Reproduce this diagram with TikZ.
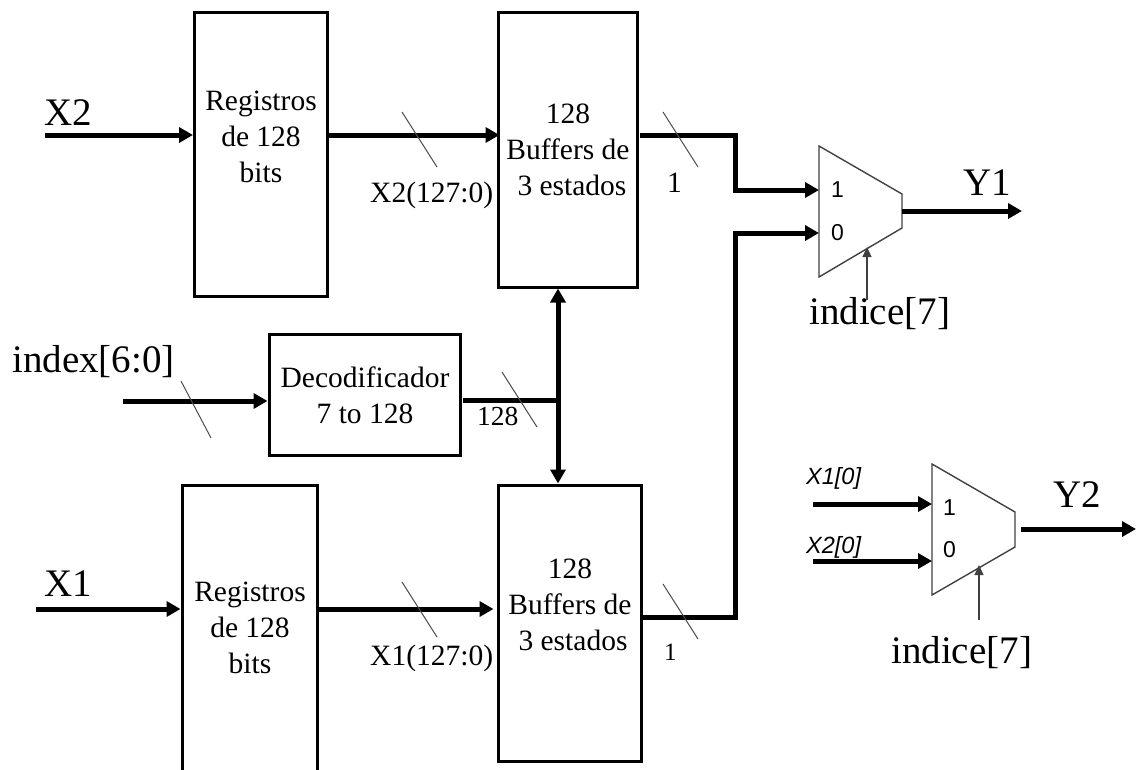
\documentclass[tikz,border=0pt]{standalone}
\usepackage{fontspec}
\setmainfont{Liberation Serif}
\newfontfamily\muxfont{Liberation Sans}
\usetikzlibrary{arrows.meta}
\tikzset{
  box/.style={draw=black,line width=3pt,inner sep=0pt},
  boxtext/.style={align=center,inner sep=0pt,font=\fontsize{29.5}{36}\selectfont},
  bus/.style={line width=5pt,-{Triangle[length=14pt,width=15pt]}},
  busplain/.style={line width=5pt},
  busboth/.style={line width=5pt,{Triangle[length=14pt,width=15pt]}-{Triangle[length=14pt,width=15pt]}},
  tick/.style={draw=black!70,line width=1pt},
  thin arrow/.style={draw=black!75,line width=1.2pt,-{Triangle[length=10pt,width=9pt]}},
  mux/.style={draw=black!75,line width=1.4pt},
  big/.style={inner sep=0pt,anchor=base west,font=\fontsize{39}{39}\selectfont},
  small/.style={inner sep=0pt,anchor=base west,font=\fontsize{29.5}{30}\selectfont},
  muxlabel/.style={inner sep=0pt,anchor=base west,font=\muxfont\fontsize{23}{23}\selectfont},
  itlabel/.style={inner sep=0pt,anchor=base west,font=\muxfont\itshape\fontsize{23.5}{24}\selectfont},
}
\begin{document}
\begin{tikzpicture}[x=1pt,y=-1pt]
\useasboundingbox (0,0) rectangle (1136,769);
% boxes
\node[box,minimum width=133pt,minimum height=284pt] (regtop) at (261,154) {};
\node[boxtext] (regtoptext) at (261,137) {Registros\\de 128\\bits};
\node[box,minimum width=139pt,minimum height=275pt] (buftop) at (567.5,149.5) {};
\node[boxtext] (buftoptext) at (568,150) {128\\Buffers de\\\hspace{8pt}3 estados};
\node[box,minimum width=191pt,minimum height=121pt] (dec) at (364.5,394.5) {};
\node[boxtext] (dectext) at (365,395) {Decodificador\\7 to 128};
\node[box,minimum width=135pt,minimum height=288pt] (regbot) at (249.5,629) {};
\node[boxtext] (regbottext) at (250,628) {Registros\\de 128\\bits};
\node[box,minimum width=143pt,minimum height=276pt] (bufbot) at (569.5,623) {};
\node[boxtext] (bufbottext) at (570,605) {128\\Buffers de\\\hspace{6pt}3 estados};
% muxes
\coordinate (m1a) at (819,146); \coordinate (m1b) at (902,194);
\coordinate (m1c) at (902,228); \coordinate (m1d) at (819,277);
\draw[mux] (m1a) -- (m1b) -- (m1c) -- (m1d) -- cycle;
\coordinate (m2a) at (932,464); \coordinate (m2b) at (1015,512);
\coordinate (m2c) at (1015,547); \coordinate (m2d) at (932,595);
\draw[mux] (m2a) -- (m2b) -- (m2c) -- (m2d) -- cycle;
\node[muxlabel] (m1one) at (831,197) {1};
\node[muxlabel] (m1zero) at (831,240) {0};
\node[muxlabel] (m2one) at (943,515) {1};
\node[muxlabel] (m2zero) at (943,557) {0};
% free ends
\coordinate (x2s) at (45,135); \coordinate (x1s) at (36,609);
\coordinate (idxs) at (123,401); \coordinate (j) at (558,400);
\coordinate (dout) at (463,400);
\coordinate (m1in1) at (819,190); \coordinate (m1in0) at (819,233);
\coordinate (m1out) at (1022,211); \coordinate (m1outs) at (902,211);
\coordinate (m2in1) at (932,504); \coordinate (m2in0) at (932,561);
\coordinate (m2in1s) at (813,504); \coordinate (m2in0s) at (813,561);
\coordinate (m2outs) at (1021,529); \coordinate (m2out) at (1136,529);
\coordinate (b1) at (640,135); \coordinate (b1k) at (735,135); \coordinate (b1l) at (735,190);
\coordinate (b2) at (643,617); \coordinate (b2k) at (735,617); \coordinate (b2l) at (735,233);
% connectors
\draw[bus] (x2s) -- (regtop.west |- x2s);
\draw[bus] (regtop.east |- x2s) -- ([xshift=3pt]buftop.west |- x2s);
\draw[bus] (x1s) -- (regbot.west |- x1s);
\draw[bus] (regbot.east |- x1s) -- ([xshift=-3pt]bufbot.west |- x1s);
\draw[bus] (idxs) -- (dec.west |- idxs);
\draw[busplain] (dout) -- (j);
\draw[busboth] (buftop.south -| j) -- (bufbot.north -| j);
\draw[bus,line join=miter] (b1) -- (b1k) -- (b1l) -- (m1in1);
\draw[bus,line join=miter] (b2) -- (b2k) -- (b2l) -- (m1in0);
\draw[bus] (m1outs) -- (m1out);
\draw[bus] (m2in1s) -- (m2in1);
\draw[bus] (m2in0s) -- (m2in0);
\draw[bus] (m2outs) -- (m2out);
% select lines
\coordinate (s1a) at (867,300); \coordinate (s1b) at (867,247);
\coordinate (s2a) at (979,620); \coordinate (s2b) at (979,565);
\draw[thin arrow] (s1a) -- (s1b);
\draw[thin arrow] (s2a) -- (s2b);
% ticks
\coordinate (t1a) at (402,112); \coordinate (t1b) at (437,167); \draw[tick] (t1a) -- (t1b);
\coordinate (t2a) at (663,112); \coordinate (t2b) at (698,167); \draw[tick] (t2a) -- (t2b);
\coordinate (t3a) at (181,381); \coordinate (t3b) at (211,438); \draw[tick] (t3a) -- (t3b);
\coordinate (t4a) at (502,372); \coordinate (t4b) at (537,427); \draw[tick] (t4a) -- (t4b);
\coordinate (t5a) at (402,582); \coordinate (t5b) at (437,637); \draw[tick] (t5a) -- (t5b);
\coordinate (t6a) at (663,584); \coordinate (t6b) at (698,639); \draw[tick] (t6a) -- (t6b);
% labels
\node[big] (lx2) at (44,125) {X2};
\node[big] (lx1) at (44,596) {X1};
\node[big] (lidx) at (12,372) {index[6:0]};
\node[big] (ly1) at (963,195) {Y1};
\node[big] (ly2) at (1053,507) {Y2};
\node[big] (li1) at (809,324) {indice[7]};
\node[big] (li2) at (891,663) {indice[7]};
\node[small] (lx2b) at (370,202) {X2(127:0)};
\node[small] (lx1b) at (370,665) {X1(127:0)};
\node[small] (l1a) at (667,192) {1};
\node[small,font=\fontsize{25}{25}\selectfont] (l1b) at (664,660) {1};
\node[small,font=\fontsize{27.5}{28}\selectfont] (l128) at (477,425) {128};
\node[itlabel] (lx10) at (806,484) {X1[0]};
\node[itlabel] (lx20) at (806,553) {X2[0]};
\end{tikzpicture}
\end{document}
